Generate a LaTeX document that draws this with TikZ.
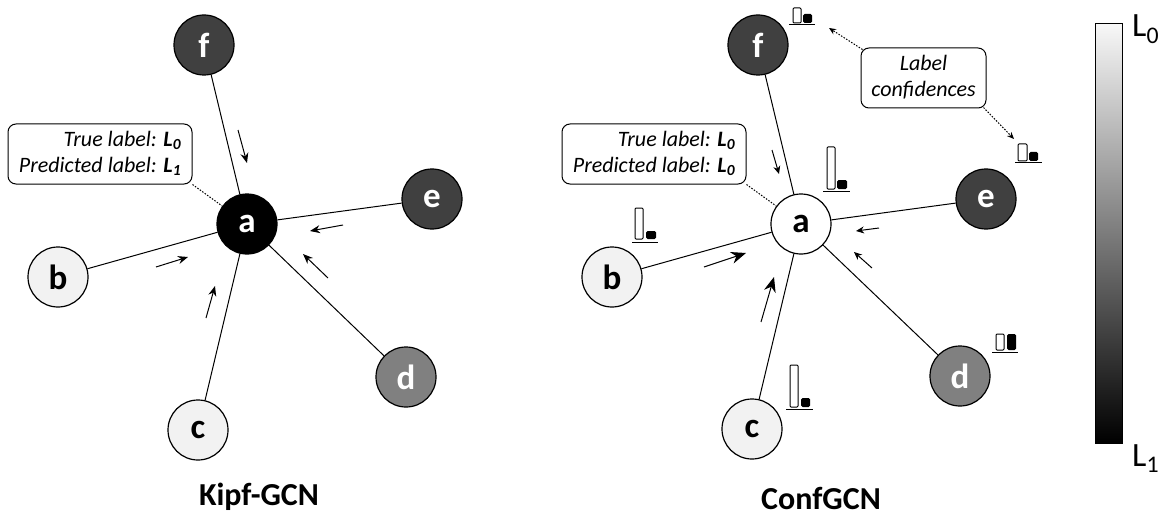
\documentclass[tikz,border=0pt]{standalone}
\usepackage{fontspec}
\setmainfont{Carlito}
\usetikzlibrary{arrows.meta}
\definecolor{darkv}{HTML}{404040}
\definecolor{midv}{HTML}{808080}
\definecolor{lightv}{HTML}{F2F2F2}
\begin{document}
\begin{tikzpicture}[x=1pt,y=-1pt,
  vtx/.style={circle, draw=black, line width=1.2pt, minimum size=60pt, inner sep=0pt,
    font=\fontsize{35}{40}\selectfont\bfseries},
  dkv/.style={vtx, fill=darkv, text=white},
  mdv/.style={vtx, fill=midv, text=white},
  ltv/.style={vtx, fill=lightv, text=black},
  edge/.style={line width=1pt},
  flow/.style={line width=1pt, -{Stealth[length=10pt,width=8pt]}},
  smallflow/.style={line width=1pt, -{Stealth[length=8pt,width=7pt]}},
  bigflow/.style={line width=1pt, -{Stealth[length=15pt,width=12pt]}},
  note/.style={draw, rounded corners=8pt, line width=1pt, inner sep=0pt,
    font=\fontsize{22}{27}\selectfont\itshape},
  dots/.style={line width=1pt, dash pattern=on 1.5pt off 1.5pt},
  dotarrow/.style={dots, -{Stealth[length=7pt,width=6pt]}},
  title/.style={font=\fontsize{32}{38}\selectfont\bfseries},
  barout/.style={draw, line width=1pt, fill=white, rounded corners=1pt},
  barin/.style={fill=black, rounded corners=1.5pt},
  barbase/.style={line width=1pt},
  cbl/.style={anchor=base west, inner sep=0pt, font=\fontsize{34}{40}\selectfont}
]
\useasboundingbox (0,0) rectangle (1162,516);

% ---------------- Kipf-GCN ----------------
\node[vtx, fill=black, text=white] (a1) at (247,224) {a};
\node[dkv] (f1) at (204,45) {f};
\node[dkv] (e1) at (432,199) {e};
\node[ltv] (b1) at (58,277) {b};
\node[ltv] (c1) at (198,430) {c};
\node[mdv] (d1) at (406,377) {d};
\foreach \n in {f1,e1,b1,c1,d1} \draw[edge] (a1) -- (\n);

\node[note, minimum width=184pt, minimum height=60pt] (lb1) at (100,154)
  {\begin{tabular}{@{}r@{}}True label: \textbf{L\textsubscript{0}}\\[-1pt]
   Predicted label: \textbf{L\textsubscript{1}}\end{tabular}};
\draw[dots] (lb1.south east) -- (a1);

\coordinate (pf1s) at (238,130); \coordinate (pf1e) at (247,163);
\coordinate (pe1s) at (343,225); \coordinate (pe1e) at (310,231);
\coordinate (pd1s) at (328,278); \coordinate (pd1e) at (303,254);
\coordinate (pb1s) at (156,267); \coordinate (pb1e) at (188,257);
\coordinate (pc1s) at (206,318); \coordinate (pc1e) at (215,286);
\draw[flow] (pf1s) -- (pf1e);
\draw[flow] (pe1s) -- (pe1e);
\draw[flow] (pd1s) -- (pd1e);
\draw[flow] (pb1s) -- (pb1e);
\draw[flow] (pc1s) -- (pc1e);

\node[title] (t1) at (259,497) {Kipf-GCN};

% ---------------- ConfGCN ----------------
\node[vtx, fill=white, text=black] (a2) at (801,224) {a};
\node[dkv] (f2) at (758,45) {f};
\node[dkv] (e2) at (986,199) {e};
\node[ltv] (b2) at (612,277) {b};
\node[ltv] (c2) at (752,429) {c};
\node[mdv] (d2) at (960,376) {d};
\foreach \n in {f2,e2,b2,c2,d2} \draw[edge] (a2) -- (\n);

\node[note, minimum width=184pt, minimum height=60pt] (lb2) at (654,154)
  {\begin{tabular}{@{}r@{}}True label: \textbf{L\textsubscript{0}}\\[-1pt]
   Predicted label: \textbf{L\textsubscript{0}}\end{tabular}};
\draw[dots] (lb2.south east) -- (a2);

\coordinate (pf2s) at (772,150); \coordinate (pf2e) at (779,174);
\coordinate (pe2s) at (879,228); \coordinate (pe2e) at (856,231);
\coordinate (pd2s) at (872,268); \coordinate (pd2e) at (854,252);
\coordinate (pb2s) at (704,267); \coordinate (pb2e) at (746,253);
\coordinate (pc2s) at (761,322); \coordinate (pc2e) at (774,277);
\draw[smallflow] (pf2s) -- (pf2e);
\draw[smallflow] (pe2s) -- (pe2e);
\draw[smallflow] (pd2s) -- (pd2e);
\draw[bigflow] (pb2s) -- (pb2e);
\draw[bigflow] (pc2s) -- (pc2e);

% confidence bars
\draw[barout] (827,147) rectangle (835,189); \fill[barin] (837,180) rectangle (847,189); \draw[barbase] (823,191) -- (850,191);
\draw[barout] (793,8) rectangle (801,23);   \fill[barin] (803,14) rectangle (812,23);   \draw[barbase] (789,25) -- (815,25);
\draw[barout] (1018,144) rectangle (1027,161); \fill[barin] (1029,152) rectangle (1038,161); \draw[barbase] (1015,163) -- (1042,163);
\draw[barout] (635,208) rectangle (643,239); \fill[barin] (646,231) rectangle (656,239); \draw[barbase] (632,242) -- (658,242);
\draw[barout] (790,365) rectangle (798,407); \fill[barin] (801,398) rectangle (810,407); \draw[barbase] (786,409) -- (813,409);
\draw[barout] (996,334) rectangle (1004,350); \fill[barin] (1007,334) rectangle (1016,350); \draw[barbase] (992,352) -- (1018,352);

\node[note, minimum width=125pt, minimum height=60pt] (lc) at (923.5,78)
  {\begin{tabular}{@{}c@{}}Label\\[-1pt] confidences\end{tabular}};
\coordinate (lcf) at (829,28);
\coordinate (lce) at (1014,139);
\draw[dotarrow] ([shift={(2,2)}]lc.north west) -- (lcf);
\draw[dotarrow] ([shift={(-3,-1)}]lc.south east) -- (lce);

\node[title] (t2) at (821,498) {ConfGCN};

% ---------------- colour bar ----------------
\shade[top color=white!97!black, bottom color=black] (1095,24) rectangle (1122,443);
\draw[line width=1pt] (1095,24) rectangle (1122,443);
\node[cbl] (l0) at (1132,37) {L\textsubscript{0}};
\node[cbl] (l1) at (1132,466) {L\textsubscript{1}};
\end{tikzpicture}
\end{document}
